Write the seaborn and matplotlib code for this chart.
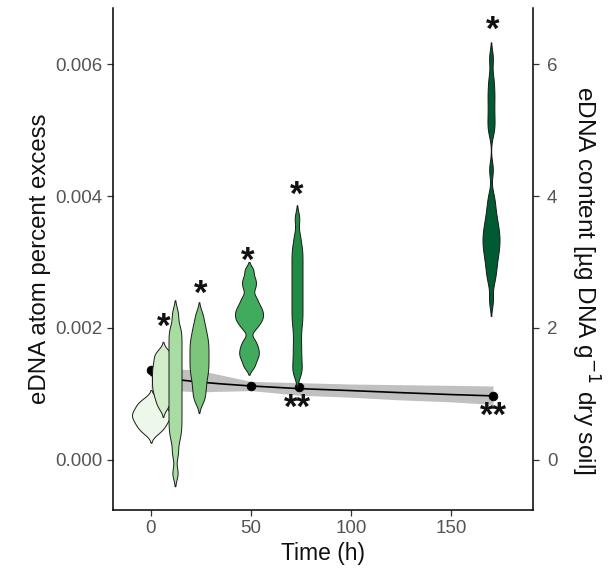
import numpy as np
import pandas as pd
import matplotlib
matplotlib.use("Agg")
import matplotlib.pyplot as plt
import seaborn as sns

# Sampling times (h) of the violins
times = [0, 6, 12, 24, 49, 73, 170]

# eDNA atom percent excess per sampling time, in units of 1e-3 (estimated from the violin shapes)
ape_0 = [0.40, 0.44, 0.475, 0.505, 0.535, 0.565, 0.59, 0.615, 0.64, 0.66, 0.68, 0.70,
         0.72, 0.745, 0.77, 0.80, 0.83, 0.86, 0.89, 0.92]
ape_6 = [0.79, 0.86, 0.92, 0.97, 1.02, 1.06, 1.10, 1.14, 1.18, 1.22, 1.26, 1.30, 1.34,
         1.38, 1.42, 1.46, 1.51, 1.56, 1.60, 1.65]
ape_12 = [-0.20, 0.10, 0.30, 0.42, 0.52, 0.62, 0.72, 0.82, 0.92, 1.02, 1.12, 1.22, 1.32,
          1.42, 1.52, 1.62, 1.72, 1.82, 1.92, 2.02, 2.22]
ape_24 = [0.89, 0.98, 1.07, 1.15, 1.23, 1.30, 1.36, 1.42, 1.48, 1.54, 1.60, 1.66, 1.72,
          1.78, 1.84, 1.91, 1.99, 2.08, 2.21]
ape_48 = [1.41, 1.50, 1.57, 1.62, 1.68, 1.74, 1.82, 1.98, 2.05, 2.10, 2.14, 2.18, 2.22,
          2.26, 2.30, 2.35, 2.41, 2.48, 2.60, 2.68, 2.76, 2.88]
ape_72 = [1.30, 1.40, 1.52, 1.65, 1.78, 1.92, 2.05, 2.15, 2.25, 2.35, 2.45, 2.55, 2.65,
          2.75, 2.85, 2.95, 3.05, 3.15, 3.25, 3.40, 3.66]
ape_168 = [2.42, 2.70, 2.82, 2.92, 3.02, 3.10, 3.17, 3.24, 3.30, 3.36, 3.42, 3.49, 3.56,
           3.64, 3.74, 3.86, 4.00, 4.40, 4.98, 5.12, 5.28, 5.45, 5.60, 5.78, 6.09]
ape_groups = [ape_0, ape_6, ape_12, ape_24, ape_48, ape_72, ape_168]

# eDNA content (ug DNA per g dry soil), measured points
content_t = [0, 50, 74, 171]
content_val = [1.36, 1.12, 1.10, 0.97]

# smoothed eDNA content with confidence band
smooth_t = [0, 12, 24, 36, 50, 74, 100, 124, 150, 171]
smooth_fit = [1.28, 1.22, 1.18, 1.15, 1.12, 1.08, 1.05, 1.02, 0.99, 0.97]
smooth_lo = [1.08, 1.05, 1.03, 1.04, 1.05, 0.98, 0.95, 0.91, 0.88, 0.84]
smooth_hi = [1.40, 1.38, 1.36, 1.28, 1.19, 1.17, 1.15, 1.14, 1.13, 1.12]

# significance stars (APE in units of 1e-3 / content units)
star_t = [6.5, 25, 48.5, 73, 171]
star_ape = [1.86, 2.36, 2.86, 3.86, 6.36]
dstar_t = [73, 171]
dstar_content = [0.63, 0.51]

df = pd.DataFrame(
    [(t, v * 1e-3) for t, vals in zip(times, ape_groups) for v in vals],
    columns=["time", "ape"],
)

# style per violin
greens = ["#eef8ea", "#d2edca", "#a9dca2", "#7bc67b", "#41ab5d", "#218a43", "#005a32"]
widths = [19, 11, 6.5, 9.5, 14, 5.5, 8.5]
bandwidths = [0.07e-3, 0.07e-3, 0.10e-3, 0.09e-3, 0.06e-3, 0.10e-3, 0.12e-3]

sns.set_style("white")
plt.rcParams["font.family"] = ["Liberation Sans", "DejaVu Sans"]

fig = plt.figure(figsize=(6.12, 5.74), dpi=100)
ax = fig.add_axes([113 / 612, 64 / 574, 420 / 612, 502 / 574])
ax2 = ax.twinx()
ax.set_zorder(ax2.get_zorder() + 1)
ax.patch.set_visible(False)

# content on the right axis (drawn underneath the violins)
ax2.fill_between(smooth_t, smooth_lo, smooth_hi, color="#c0c0c0", linewidth=0)
sns.lineplot(x=smooth_t, y=smooth_fit, color="black", linewidth=1.2, ax=ax2)
sns.scatterplot(x=content_t, y=content_val, color="black", s=40, edgecolor="black", ax=ax2, zorder=3)
for t, y in zip(dstar_t, dstar_content):
    ax2.text(t, y, "**", ha="center", va="baseline", fontsize=25, fontweight="bold", color="#111111")

# violins of atom percent excess
for t, c, w, bw in zip(times, greens, widths, bandwidths):
    sub = df[df["time"] == t]
    sns.violinplot(
        data=sub, x="time", y="ape", orient="x", native_scale=True,
        width=w, cut=2, bw_method=bw / sub["ape"].std(), inner=None,
        color=c, saturation=1, linecolor="#1a1a1a", linewidth=0.7, ax=ax,
    )
for t, y in zip(star_t, star_ape):
    ax.text(t, y * 1e-3, "*", ha="center", va="baseline", fontsize=25, fontweight="bold", color="#111111")

ax.set_xlim(-19, 191)
ax.set_ylim(-0.00076, 0.00685)
ax2.set_ylim(-0.76, 6.85)
ax.set_xticks([0, 50, 100, 150])
ax.set_yticks([0, 0.002, 0.004, 0.006])
ax.set_yticklabels(["0.000", "0.002", "0.004", "0.006"])
ax2.set_yticks([0, 2, 4, 6])

ax.set_xlabel("Time (h)", fontsize=16.5, color="#111111", labelpad=3)
ax.set_ylabel("eDNA atom percent excess", fontsize=17.3, color="#111111", labelpad=3)
ax2.set_ylabel("eDNA content [µg DNA g$^{-1}$ dry soil]", fontsize=17.6, color="#111111",
               rotation=270, va="center")
ax2.yaxis.set_label_coords(1.125, 0.458)

for a in (ax, ax2):
    for s in a.spines.values():
        s.set_visible(False)
    a.tick_params(axis="both", length=4, width=0.9, color="#333333",
                  labelsize=13.5, labelcolor="#555555", direction="out")
ax.spines["left"].set_visible(True)
ax.spines["bottom"].set_visible(True)
ax2.spines["right"].set_visible(True)
for s in (ax.spines["left"], ax.spines["bottom"], ax2.spines["right"]):
    s.set_color("black")
    s.set_linewidth(1.1)
ax.tick_params(axis="x", bottom=True)
ax.tick_params(axis="y", left=True)
ax2.tick_params(axis="y", right=True, pad=6)

fig.savefig("out.png", dpi=100)
